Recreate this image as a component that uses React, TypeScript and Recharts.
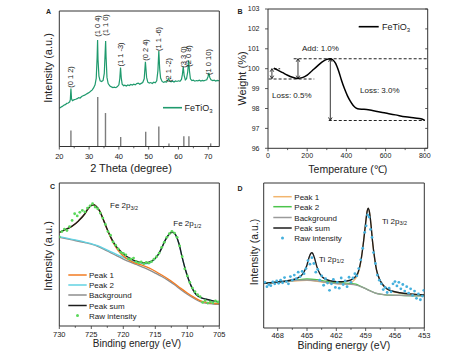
import React from 'react';
import { ComposedChart, Line, Scatter, XAxis, YAxis, ReferenceLine } from 'recharts';

const FONT = "'Liberation Sans', Arial, Helvetica, sans-serif";
const AX = '#333333';
const TXT = '#222222';

// ---------------- Panel A : XRD ----------------
const xrdPattern: [number, number][] = [
  [20.0, 28.2], [20.5, 29.0], [21.0, 29.6], [21.5, 30.4], [22.0, 30.9], [22.5, 31.8], [23.0, 32.1], [23.5, 33.0],
  [23.7, 34.5], [23.9, 42.7], [24.1, 35.2], [24.4, 33.8], [25.0, 34.6], [25.5, 34.9], [26.0, 35.3], [26.5, 36.1],
  [27.0, 35.8], [27.5, 36.9], [28.0, 37.5], [28.5, 37.9], [29.0, 38.6], [29.5, 39.2], [30.0, 39.8], [30.5, 40.8],
  [31.0, 41.6], [31.5, 43.2], [32.0, 45.5], [32.4, 50.5], [32.7, 66.0], [32.85, 78.5], [33.0, 64.0], [33.3, 52.0],
  [33.7, 48.5], [34.2, 48.0], [34.7, 48.8], [35.1, 54.0], [35.4, 70.0], [35.55, 77.8], [35.7, 66.0], [36.0, 51.0],
  [36.4, 46.5], [37.0, 44.6], [37.5, 44.0], [38.0, 43.5], [38.5, 43.8], [39.0, 43.4], [39.5, 44.2], [40.0, 45.5],
  [40.3, 50.0], [40.55, 58.3], [40.8, 50.5], [41.1, 46.0], [41.6, 44.9], [42.0, 45.3], [42.5, 44.6], [43.0, 45.4],
  [43.5, 45.0], [44.0, 45.8], [44.5, 45.3], [45.0, 46.0], [45.5, 45.5], [46.0, 46.4], [46.5, 46.8], [47.0, 46.0],
  [47.5, 46.6], [48.0, 47.2], [48.5, 50.0], [48.9, 62.5], [49.3, 51.0], [49.7, 47.5], [50.2, 46.8], [50.7, 47.2],
  [51.2, 46.5], [51.7, 47.4], [52.2, 47.0], [52.7, 48.5], [53.1, 56.0], [53.4, 70.6], [53.7, 57.0], [54.0, 50.5],
  [54.5, 48.0], [55.0, 47.3], [55.5, 47.8], [56.0, 47.5], [56.4, 49.0], [56.7, 50.0], [57.0, 48.6], [57.5, 47.8],
  [58.0, 48.2], [58.5, 47.6], [59.0, 48.4], [59.5, 48.0], [60.0, 48.5], [60.5, 48.1], [61.0, 49.5], [61.3, 53.0],
  [61.6, 58.8], [61.9, 52.5], [62.3, 49.2], [62.7, 50.0], [63.1, 55.0], [63.4, 63.7], [63.7, 55.5], [64.0, 50.0],
  [64.5, 48.6], [65.0, 48.9], [65.5, 48.2], [66.0, 48.7], [66.5, 48.4], [67.0, 48.9], [67.5, 48.3], [68.0, 48.8],
  [68.5, 48.5], [69.0, 48.9], [69.5, 49.3], [69.9, 51.5], [70.2, 54.3], [70.5, 51.0], [70.9, 49.2], [71.5, 48.6],
  [72.0, 48.9], [72.5, 48.3], [73.0, 48.8], [73.7, 48.5],
];
const refPositions = [23.9, 32.9, 35.5, 40.6, 49.0, 53.4, 56.8, 61.8, 63.5, 70.8];
const refHeights = [11.9, 36.5, 24.7, 7.0, 10.8, 14.8, 2.3, 7.5, 7.5, 2.3];
const thetaTicks = [20, 25, 30, 35, 40, 45, 50, 55, 60, 65, 70];
const thetaMajor = [20, 30, 40, 50, 60, 70];
const hklLabels = ['(0 1 2)', '(1 0 4)', '(1 1 0)', '(1 1 -3)', '(0 2 4)', '(1 1 -6)', '(2 1 -2)', '(3 3 0)', '(2 0 8)', '(1 0 10)'];

// ---------------- Panel B : TGA ----------------
const tgaCurve: [number, number][] = [
  [30, 100.02], [50, 99.93], [75, 99.8], [100, 99.67], [125, 99.57], [150, 99.51], [175, 99.55], [200, 99.68],
  [225, 99.9], [250, 100.12], [275, 100.33], [300, 100.47], [318, 100.5], [330, 100.45], [345, 100.27], [360, 99.9],
  [375, 99.42], [390, 99.0], [405, 98.65], [420, 98.37], [435, 98.15], [450, 98.02], [465, 97.97], [490, 97.96],
  [520, 97.92], [550, 97.86], [600, 97.77], [650, 97.68], [700, 97.58], [750, 97.52], [780, 97.48], [800, 97.4],
];
const tempTicks = [0, 100, 200, 300, 400, 500, 600, 700, 800];
const tempMajor = [0, 200, 400, 600, 800];
const weightTicks = [96, 97, 98, 99, 100, 101, 102, 103];
// [x start, x end, level]
const tgaDashed: [number, number, number][] = [[131, 815, 100.5], [3, 236, 99.48], [28, 62, 100.0], [310, 800, 97.4]];
// [x, low, high]
const tgaArrows: [number, number, number][] = [[20, 99.5, 100.0], [153, 99.5, 100.5], [318, 97.4, 100.5]];

// ---------------- Panel C : Fe 2p XPS ----------------
const feTicks = [730, 727.5, 725, 722.5, 720, 717.5, 715, 712.5, 710, 707.5, 705];
const feMajor = [730, 725, 720, 715, 710, 705];
const fePeakSum: [number, number][] = [
  [730, 65.5], [729, 67.5], [728, 69.8], [727, 73.5], [726, 78.5], [725.5, 82], [725, 84.3], [724.6, 84.8],
  [724.2, 83.5], [723.7, 80.5], [723, 73], [722.5, 67.5], [722, 62.5], [721.5, 58.3], [721, 55], [720.5, 52.7],
  [720, 50.5], [719.5, 48.8], [719, 47.4], [718.5, 46.3], [718, 45.4], [717.5, 44.7], [717, 44.3], [716.5, 44.2],
  [716, 44.6], [715.5, 45.6], [715, 47.3], [714.5, 50.2], [714, 54.5], [713.5, 59.5], [713, 63.3], [712.5, 65.4],
  [712.2, 65.5], [711.8, 63.5], [711.3, 57.5], [710.8, 48], [710.3, 39.5], [709.8, 32.5], [709.3, 27], [708.8, 23],
  [708.3, 20.8], [707.8, 19.6], [707, 18.7], [706, 17.6], [705, 16.8],
];
const fePeak1: [number, number][] = [
  [730, 65.5], [729, 67.5], [728, 69.8], [727, 73.5], [726, 78.5], [725.5, 82], [725, 84.3], [724.6, 84.8],
  [724.2, 83.5], [723.7, 80.5], [723, 73], [722.5, 67.3], [722, 62], [721.5, 57.5], [721, 54], [720.5, 51.2],
  [720, 49], [719.5, 47.3], [719, 45.9], [718.5, 44.7], [718, 43.8], [717, 42.4], [716, 40.6], [715, 38.3],
  [714, 35.7], [713, 32.9], [712, 29.7], [711, 26.3], [710, 23.1], [709, 20.2], [708, 17.8], [707, 16.5],
  [706, 15.9], [705, 15.6],
];
const fePeak2: [number, number][] = [
  [730, 62.5], [728, 60.6], [726, 58.7], [724, 56.2], [722, 52], [720, 48], [719, 46.3], [718, 44.8],
  [717, 43.8], [716.5, 43.5], [716, 43.8], [715.5, 45.2], [715, 47.2], [714.5, 50.2], [714, 54.5], [713.5, 59.5],
  [713, 63.3], [712.5, 65.4], [712.2, 65.5], [711.8, 63.5], [711.3, 57.5], [710.8, 48], [710.3, 39.5], [709.8, 32.5],
  [709.3, 27], [708.8, 23], [708.3, 20.8], [707.8, 19.6], [707, 18.7], [706, 17.6], [705, 16.8],
];
const feBackground: [number, number][] = [
  [730, 62], [728, 60.2], [726, 58.3], [725, 57.2], [724, 55.7], [723, 53.6], [722, 51.3], [721, 49],
  [720, 46.8], [719, 44.8], [718, 43], [717, 41.2], [716, 39.3], [715, 37], [714, 34.6], [713, 31.9],
  [712, 28.8], [711, 25.4], [710, 22.2], [709, 19.4], [708, 17.1], [707, 15.9], [706, 15.4], [705, 15.2],
];
const feRaw: [number, number][] = [
  [730.0, 62.3], [729.6, 66.0], [729.2, 67.8], [728.8, 66.8], [728.4, 69.5], [728.0, 73.8], [727.6, 78.5], [727.2, 77.0],
  [726.8, 79.5], [726.4, 80.8], [726.0, 79.8], [725.6, 82.5], [725.2, 84.0], [724.8, 85.5], [724.4, 83.2], [724.0, 82.0],
  [723.6, 79.0], [723.2, 75.5], [722.8, 71.0], [722.4, 66.0], [722.0, 63.5], [721.6, 58.8], [721.2, 56.5], [720.8, 54.0],
  [720.4, 51.5], [720.0, 50.8], [719.6, 49.8], [719.2, 47.0], [718.8, 46.8], [718.4, 47.5], [718.0, 45.0], [717.6, 44.2],
  [717.2, 44.8], [716.8, 43.6], [716.4, 44.5], [716.0, 44.0], [715.6, 45.0], [715.2, 46.8], [714.8, 48.5], [714.4, 51.0],
  [714.0, 55.0], [713.6, 58.5], [713.2, 62.0], [712.8, 64.5], [712.4, 66.2], [712.0, 65.0], [711.6, 62.0], [711.2, 56.0],
  [710.8, 48.5], [710.4, 40.0], [710.0, 35.0], [709.6, 30.5], [709.2, 26.5], [708.8, 24.0], [708.4, 22.0], [708.0, 20.5],
  [707.6, 16.5], [707.2, 17.8], [706.8, 16.0], [706.4, 16.9], [706.0, 16.2], [705.6, 17.5], [705.2, 16.8],
];

// ---------------- Panel D : Ti 2p XPS ----------------
const tiTicks = [468, 466.5, 465, 463.5, 462, 460.5, 459, 457.5, 456, 454.5, 453];
const tiMajor = [468, 465, 462, 459, 456, 453];
const tiPeakSum: [number, number][] = [
  [469.4, 30.8], [469, 31.0], [468, 31.7], [467, 32.6], [466.5, 33.3], [466, 34.3], [465.6, 36.0], [465.3, 38.8],
  [465.0, 43.5], [464.8, 48.5], [464.6, 51.5], [464.5, 51.9], [464.4, 51.3], [464.2, 47.5], [464.0, 42.5], [463.7, 37.6],
  [463.4, 35.0], [463.0, 33.3], [462.5, 32.4], [462, 32.0], [461.5, 31.9], [461, 32.3], [460.5, 33.2], [460.1, 35.0],
  [459.8, 38.0], [459.6, 42.5], [459.4, 50.0], [459.2, 60.5], [459.0, 72.5], [458.85, 80.5], [458.75, 82.6], [458.6, 79.5],
  [458.45, 71.0], [458.3, 60.0], [458.1, 49.0], [457.9, 40.5], [457.6, 34.0], [457.2, 29.5], [456.8, 27.0], [456.3, 25.5],
  [455.5, 24.3], [454.5, 23.5], [453.5, 23.0], [453, 22.8],
];
const tiPeak1: [number, number][] = [
  [469.4, 30.6], [467, 32.0], [465, 32.9], [463, 31.2], [461, 30.1], [460.5, 31.2], [460.1, 33.5], [459.8, 36.8],
  [459.6, 41.8], [459.4, 49.8], [459.2, 60.4], [459.0, 72.4], [458.85, 80.4], [458.75, 82.5], [458.6, 79.4], [458.45, 70.9],
  [458.3, 59.9], [458.1, 48.9], [457.9, 40.4], [457.6, 33.8], [457.2, 29.3], [456.8, 26.8], [456.3, 25.3], [455.5, 24.1],
  [454.5, 23.3], [453.5, 22.8], [453, 22.6],
];
const tiPeak2: [number, number][] = [
  [469.4, 30.8], [467, 32.3], [466, 33.2], [465, 33.8], [464, 33.3], [463, 32.1], [462, 31.3], [461, 30.9],
  [460.5, 30.7], [460, 30.2], [459.5, 28.7], [459, 27.2], [458, 24.1], [457, 22.9], [455, 22.4], [453, 22.1],
];
const tiBackground: [number, number][] = [
  [469.4, 30.8], [468, 31.5], [467, 32.2], [466, 32.8], [465, 33.1], [464, 32.5], [463, 31.4], [462, 30.6],
  [461, 30.3], [460.5, 30.1], [460, 29.6], [459.5, 28.6], [459, 27.1], [458.5, 25.4], [458, 24.1], [457.5, 23.3],
  [457, 22.9], [456, 22.6], [455, 22.4], [454, 22.2], [453, 22.1],
];
const tiRaw: [number, number][] = [
  [469.3, 31.5], [469.1, 28.5], [468.9, 30.0], [468.7, 29.2], [468.5, 31.8], [468.3, 30.5], [468.1, 32.5], [467.9, 30.8],
  [467.7, 33.0], [467.5, 31.2], [467.3, 34.8], [467.1, 32.0], [466.9, 30.5], [466.7, 35.5], [466.5, 33.0], [466.3, 36.5],
  [466.1, 34.0], [465.9, 38.5], [465.7, 35.5], [465.5, 39.0], [465.3, 37.5], [465.1, 41.0], [464.9, 46.5], [464.7, 44.0],
  [464.5, 48.5], [464.3, 44.5], [464.1, 38.5], [463.9, 40.5], [463.7, 33.0], [463.5, 36.0], [463.3, 29.5], [463.1, 34.0],
  [462.9, 31.0], [462.7, 26.0], [462.5, 30.5], [462.3, 33.5], [462.1, 28.0], [461.9, 31.5], [461.7, 27.5], [461.5, 34.5],
  [461.3, 30.0], [461.1, 32.5], [460.9, 28.5], [460.7, 35.0], [460.5, 31.5], [460.3, 34.5], [460.1, 37.5], [459.9, 36.0],
  [459.7, 41.0], [459.5, 47.0], [459.3, 55.0], [459.1, 66.0], [458.95, 70.5], [458.8, 78.0], [458.65, 76.5], [458.5, 68.0],
  [458.35, 62.5], [458.2, 52.0], [458.0, 44.5], [457.8, 36.5], [457.6, 33.0], [457.4, 30.5], [457.2, 26.5], [457.0, 28.0],
  [456.8, 24.5], [456.6, 27.5], [456.4, 25.0], [456.2, 30.5], [456.0, 32.0], [455.8, 29.0], [455.6, 31.5], [455.4, 27.0],
  [455.2, 30.0], [455.0, 25.5], [454.8, 28.5], [454.6, 24.0], [454.4, 27.0], [454.2, 22.5], [454.0, 25.5], [453.8, 20.5],
  [453.6, 23.5], [453.4, 19.5], [453.2, 22.0], [453.05, 26.0],
];

const pts = (a: [number, number][]) => a.map(([x, y]) => ({ x, y }));

// ---------------- helpers ----------------
const isIn = (list: number[], v: number) => list.some((m) => Math.abs(m - v) < 1e-6);

const mkXTick = (majors: number[], gap: number, fs: number) => (p: any) => {
  const { x, y, payload } = p;
  const v = payload.value as number;
  const major = isIn(majors, v);
  return (
    <g>
      <line x1={x} y1={y} x2={x} y2={y + (major ? 3 : 1.8)} stroke={AX} strokeWidth={0.8} />
      {major ? (
        <text x={x} y={y + gap} textAnchor="middle" fontSize={fs} fontFamily={FONT} fill={TXT}>
          {v}
        </text>
      ) : null}
    </g>
  );
};

const mkYTickLeft = (gap: number, fs: number) => (p: any) => {
  const { x, y, payload } = p;
  return (
    <g>
      <line x1={x} y1={y} x2={x - 3} y2={y} stroke={AX} strokeWidth={0.8} />
      <text x={x - gap} y={y} dy="0.35em" textAnchor="end" fontSize={fs} fontFamily={FONT} fill={TXT}>
        {payload.value}
      </text>
    </g>
  );
};

const yTickRightInward = (p: any) => {
  const { x, y } = p;
  return <line x1={x} y1={y} x2={x - 2.5} y2={y} stroke={AX} strokeWidth={0.8} />;
};

const arrowShape = (p: any) => {
  const { x1, y1, x2, y2 } = p;
  const top = Math.min(y1, y2);
  const bot = Math.max(y1, y2);
  const x = x1;
  const w = 1.8;
  const h = 3;
  return (
    <g>
      <line x1={x} y1={top} x2={x} y2={bot} stroke="#222" strokeWidth={0.9} />
      <path d={`M${x - w},${top + h} L${x},${top} L${x + w},${top + h}`} fill="none" stroke="#222" strokeWidth={0.9} />
      <path d={`M${x - w},${bot - h} L${x},${bot} L${x + w},${bot - h}`} fill="none" stroke="#222" strokeWidth={0.9} />
    </g>
  );
};

const dotShape = (color: string, r: number) => (p: any) => <circle cx={p.cx} cy={p.cy} r={r} fill={color} />;

const axisLine = { stroke: AX, strokeWidth: 1 };

const topAxis = (xd: [number, number], reversed = false) => (
  <XAxis xAxisId="t" orientation="top" type="number" domain={xd} allowDataOverflow reversed={reversed}
    tick={false} tickLine={false} axisLine={axisLine} height={1} />
);

// ---------------- overlay (titles, legends, annotations) ----------------
const T = (props: any) => <text fontFamily={FONT} fill={TXT} {...props} />;

const Overlay = () => {
  const hklX = [70.9, 97.6, 105.6, 120.5, 145.4, 158.8, 168.6, 183.0, 188.6, 208.9];
  const hklY = [77, 26, 25, 54.5, 50, 39, 70, 57, 56, 62];
  const cRows = [275, 285, 295, 305.5, 315.5];
  const dRows = [196.7, 206.7, 217.5, 228, 238];
  const cLeg = [
    ['Peak 1', '#f27b22'], ['Peak 2', '#62d2e2'], ['Background', '#8e8e8e'], ['Peak sum', '#1c1c1c'],
  ];
  const dLeg = [
    ['Peak 1', '#f2b56e'], ['Peak 2', '#4cc44c'], ['Background', '#9a9a9a'], ['Peak sum', '#1c1c1c'],
  ];
  return (
    <svg width={474} height={361} style={{ position: 'absolute', left: 0, top: 0, pointerEvents: 'none' }}>
      <T x={48.5} y={11.5} fontSize={7} fontWeight="bold" textAnchor="middle" dominantBaseline="central">A</T>
      <T x={240} y={11.7} fontSize={7} fontWeight="bold" textAnchor="middle" dominantBaseline="central">B</T>
      <T x={52.5} y={186.5} fontSize={7} fontWeight="bold" textAnchor="middle" dominantBaseline="central">C</T>
      <T x={240} y={188.3} fontSize={7} fontWeight="bold" textAnchor="middle" dominantBaseline="central">D</T>

      <T x={131} y={172} fontSize={11} textAnchor="middle">2 Theta (degree)</T>
      <T x={48} y={68} fontSize={11} textAnchor="middle" dominantBaseline="central" transform="rotate(-90 48 68)">Intensity (a.u.)</T>
      <T x={347.8} y={173} fontSize={10.5} textAnchor="middle">Temperature (℃)</T>
      <T x={242} y={78.5} fontSize={11} textAnchor="middle" dominantBaseline="central" transform="rotate(-90 242 78.5)">Weight (%)</T>
      <T x={137} y={347} fontSize={10} textAnchor="middle">Binding energy (eV)</T>
      <T x={48.3} y={256} fontSize={11} textAnchor="middle" dominantBaseline="central" transform="rotate(-90 48.3 256)">Intensity (a.u.)</T>
      <T x={343.8} y={349} fontSize={10.5} textAnchor="middle">Binding energy (eV)</T>
      <T x={254} y={252} fontSize={10.5} textAnchor="middle" dominantBaseline="central" transform="rotate(-90 254 252)">Intensity (a.u.)</T>

      {hklLabels.map((s, i) => (
        <T key={s} x={hklX[i]} y={hklY[i]} fontSize={7.5} textAnchor="middle" dominantBaseline="central"
          transform={`rotate(-90 ${hklX[i]} ${hklY[i]})`}>{s}</T>
      ))}
      <line x1={163} y1={107.7} x2={182} y2={107.7} stroke="#1f9a6d" strokeWidth={1.6} />
      <T x={184.5} y={111} fontSize={9}>FeTiO<tspan fontSize={6} dy={2}>3</tspan></T>

      <line x1={358.7} y1={26.7} x2={378.7} y2={26.7} stroke="#000" strokeWidth={1.6} />
      <T x={382} y={30} fontSize={9}>FeTiO<tspan fontSize={6} dy={2}>3</tspan></T>
      <T x={302} y={50.5} fontSize={8}>Add: 1.0%</T>
      <T x={272} y={98} fontSize={8}>Loss: 0.5%</T>
      <T x={360} y={93} fontSize={8}>Loss: 3.0%</T>

      {cLeg.map(([name, col], i) => (
        <g key={name}>
          <line x1={68.3} y1={cRows[i]} x2={86.7} y2={cRows[i]} stroke={col} strokeWidth={1.5} />
          <T x={89} y={cRows[i] + 3} fontSize={8}>{name}</T>
        </g>
      ))}
      <circle cx={77.5} cy={cRows[4]} r={1.5} fill="#5ad85a" />
      <T x={89} y={cRows[4] + 3} fontSize={8}>Raw intensity</T>
      <T x={110} y={208} fontSize={8}>Fe 2p<tspan fontSize={5.5} dy={1.5}>3/2</tspan></T>
      <T x={173.3} y={226} fontSize={8}>Fe 2p<tspan fontSize={5.5} dy={1.5}>1/2</tspan></T>

      {dLeg.map(([name, col], i) => (
        <g key={name}>
          <line x1={273.3} y1={dRows[i]} x2={291.7} y2={dRows[i]} stroke={col} strokeWidth={1.5} />
          <T x={294.3} y={dRows[i] + 3} fontSize={8}>{name}</T>
        </g>
      ))}
      <circle cx={282.5} cy={dRows[4]} r={1.5} fill="#45b0dd" />
      <T x={294.3} y={dRows[4] + 3} fontSize={8}>Raw intensity</T>
      <T x={382} y={223.5} fontSize={8}>Ti 2p<tspan fontSize={5.5} dy={1.5}>3/2</tspan></T>
      <T x={319} y={261.5} fontSize={8}>Ti 2p<tspan fontSize={5.5} dy={1.5}>1/2</tspan></T>
    </svg>
  );
};

// ---------------- charts ----------------
const PanelA = () => (
  <ComposedChart width={237} height={180} margin={{ top: 10, right: 16.7, bottom: 13.5, left: 58.3 }}>
    <XAxis xAxisId="b" dataKey="x" type="number" domain={[20, 73.7]} allowDataOverflow ticks={thetaTicks} interval={0}
      tickSize={0} tickMargin={0} tickLine={false} tick={mkXTick(thetaMajor, 12.5, 7.5)} axisLine={axisLine} height={20} />
    {topAxis([20, 73.7])}
    <YAxis yAxisId="l" type="number" domain={[0, 100]} allowDataOverflow tick={false} tickLine={false} axisLine={axisLine} width={1} />
    <YAxis yAxisId="r" orientation="right" type="number" domain={[0, 100]} allowDataOverflow tick={false} tickLine={false} axisLine={axisLine} width={1} />
    {refPositions.map((x, i) => (
      <ReferenceLine key={`s${i}`} xAxisId="b" yAxisId="l" segment={[{ x, y: 0 }, { x, y: refHeights[i] }]}
        stroke="#7d7d7d" strokeWidth={1.4} ifOverflow="visible" />
    ))}
    <Line xAxisId="b" yAxisId="l" data={pts(xrdPattern)} dataKey="y" type="linear" stroke="#1f9a6d" strokeWidth={1.2}
      dot={false} isAnimationActive={false} />
  </ComposedChart>
);

const PanelB = () => (
  <ComposedChart width={237} height={180} margin={{ top: 8, right: 45.3, bottom: 11.7, left: 30 }}>
    <XAxis xAxisId="b" dataKey="x" type="number" domain={[0, 815]} allowDataOverflow ticks={tempTicks} interval={0}
      tickSize={0} tickMargin={0} tickLine={false} tick={mkXTick(tempMajor, 9.5, 7)} axisLine={axisLine} height={20} />
    {topAxis([0, 815])}
    <YAxis yAxisId="l" type="number" domain={[96, 103]} allowDataOverflow ticks={weightTicks} interval={0}
      tickSize={0} tickMargin={0} tickLine={false} tick={mkYTickLeft(8.5, 7)} axisLine={axisLine} width={1} />
    <YAxis yAxisId="r" orientation="right" type="number" domain={[96, 103]} allowDataOverflow ticks={weightTicks} interval={0}
      tickSize={0} tickMargin={0} tickLine={false} tick={yTickRightInward} axisLine={axisLine} width={1} />
    {tgaDashed.map(([a, b, lv], i) => (
      <ReferenceLine key={`d${i}`} xAxisId="b" yAxisId="l" segment={[{ x: a, y: lv }, { x: b, y: lv }]}
        stroke="#222" strokeWidth={1.1} strokeDasharray="3 2" ifOverflow="visible" />
    ))}
    {tgaArrows.map(([x, lo, hi], i) => (
      <ReferenceLine key={`a${i}`} xAxisId="b" yAxisId="l" segment={[{ x, y: lo }, { x, y: hi }]}
        stroke="#222" ifOverflow="visible" shape={arrowShape} />
    ))}
    <Line xAxisId="b" yAxisId="l" data={pts(tgaCurve)} dataKey="y" type="monotone" stroke="#000" strokeWidth={1.5}
      dot={false} isAnimationActive={false} />
  </ComposedChart>
);

const PanelC = () => (
  <ComposedChart width={237} height={181} margin={{ top: 2, right: 16.7, bottom: 15, left: 58.3 }}>
    <XAxis xAxisId="b" dataKey="x" type="number" domain={[705, 730]} reversed allowDataOverflow ticks={feTicks} interval={0}
      tickSize={0} tickMargin={0} tickLine={false} tick={mkXTick(feMajor, 11, 7.5)} axisLine={axisLine} height={20} />
    {topAxis([705, 730], true)}
    <YAxis yAxisId="l" type="number" domain={[0, 100]} allowDataOverflow tick={false} tickLine={false} axisLine={axisLine} width={1} />
    <YAxis yAxisId="r" orientation="right" type="number" domain={[0, 100]} allowDataOverflow tick={false} tickLine={false} axisLine={axisLine} width={1} />
    <Line xAxisId="b" yAxisId="l" data={pts(feBackground)} dataKey="y" type="monotone" stroke="#8e8e8e" strokeWidth={1.3} dot={false} isAnimationActive={false} />
    <Line xAxisId="b" yAxisId="l" data={pts(fePeak2)} dataKey="y" type="monotone" stroke="#62d2e2" strokeWidth={1.3} dot={false} isAnimationActive={false} />
    <Line xAxisId="b" yAxisId="l" data={pts(fePeak1)} dataKey="y" type="monotone" stroke="#f27b22" strokeWidth={1.3} dot={false} isAnimationActive={false} />
    <Scatter xAxisId="b" yAxisId="l" data={pts(feRaw)} dataKey="y" fill="#5ad85a" shape={dotShape('#5ad85a', 1.4)} isAnimationActive={false} />
    <Line xAxisId="b" yAxisId="l" data={pts(fePeakSum)} dataKey="y" type="monotone" stroke="#1c1c1c" strokeWidth={1.4} dot={false} isAnimationActive={false} />
  </ComposedChart>
);

const PanelD = () => (
  <ComposedChart width={237} height={181} margin={{ top: 2, right: 48.7, bottom: 13, left: 25.7 }}>
    <XAxis xAxisId="b" dataKey="x" type="number" domain={[453, 469.43]} reversed allowDataOverflow ticks={tiTicks} interval={0}
      tickSize={0} tickMargin={0} tickLine={false} tick={mkXTick(tiMajor, 9.5, 7.5)} axisLine={axisLine} height={20} />
    {topAxis([453, 469.43], true)}
    <YAxis yAxisId="l" type="number" domain={[0, 100]} allowDataOverflow tick={false} tickLine={false} axisLine={axisLine} width={1} />
    <YAxis yAxisId="r" orientation="right" type="number" domain={[0, 100]} allowDataOverflow tick={false} tickLine={false} axisLine={axisLine} width={1} />
    <Line xAxisId="b" yAxisId="l" data={pts(tiPeak1)} dataKey="y" type="monotone" stroke="#f2b56e" strokeWidth={1.2} dot={false} isAnimationActive={false} />
    <Line xAxisId="b" yAxisId="l" data={pts(tiPeak2)} dataKey="y" type="monotone" stroke="#4cc44c" strokeWidth={1.3} dot={false} isAnimationActive={false} />
    <Line xAxisId="b" yAxisId="l" data={pts(tiBackground)} dataKey="y" type="monotone" stroke="#9a9a9a" strokeWidth={1.3} dot={false} isAnimationActive={false} />
    <Scatter xAxisId="b" yAxisId="l" data={pts(tiRaw)} dataKey="y" fill="#45b0dd" shape={dotShape('#45b0dd', 1.4)} isAnimationActive={false} />
    <Line xAxisId="b" yAxisId="l" data={pts(tiPeakSum)} dataKey="y" type="monotone" stroke="#1c1c1c" strokeWidth={1.4} dot={false} isAnimationActive={false} />
  </ComposedChart>
);

export default function App() {
  return (
    <div style={{ position: 'absolute', left: 0, top: 0, width: 474, height: 361, background: '#fff', fontFamily: FONT }}>
      <div style={{ position: 'absolute', left: 0, top: 0 }}><PanelA /></div>
      <div style={{ position: 'absolute', left: 237, top: 0 }}><PanelB /></div>
      <div style={{ position: 'absolute', left: 0, top: 180 }}><PanelC /></div>
      <div style={{ position: 'absolute', left: 237, top: 180 }}><PanelD /></div>
      <Overlay />
    </div>
  );
}
